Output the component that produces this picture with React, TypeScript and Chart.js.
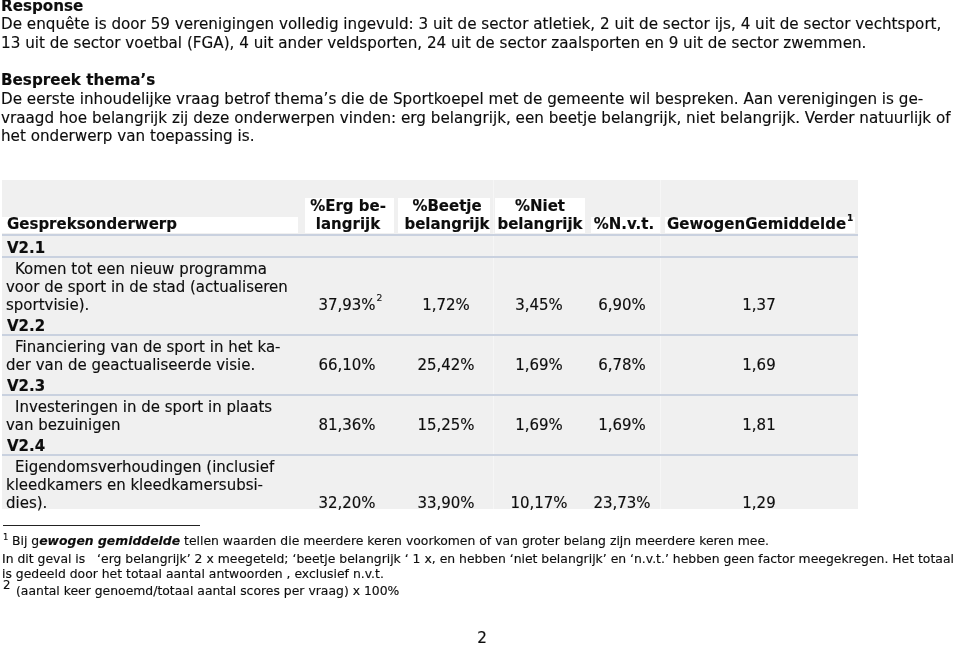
import React, { useEffect, useRef } from "react";
import { Chart, registerables } from "chart.js";
Chart.register(...registerables);

const W = 960;
const H = 647;
const FONT = '"DejaVu Sans", Verdana, sans-serif';

// ---------- text / data ----------
const introTitle = "Response";
const introLines = [
  "De enquête is door 59 verenigingen volledig ingevuld: 3 uit de sector atletiek, 2 uit de sector ijs, 4 uit de sector vechtsport,",
  "13 uit de sector voetbal (FGA), 4 uit ander veldsporten, 24 uit de sector zaalsporten en 9 uit de sector zwemmen.",
];
const themeTitle = "Bespreek thema’s";
const themeLines = [
  "De eerste inhoudelijke vraag betrof thema’s die de Sportkoepel met de gemeente wil bespreken. Aan verenigingen is ge-",
  "vraagd hoe belangrijk zij deze onderwerpen vinden: erg belangrijk, een beetje belangrijk, niet belangrijk. Verder natuurlijk of",
  "het onderwerp van toepassing is.",
];

const headerLabel = "Gespreksonderwerp";
const columnHeaders = [
  ["%Erg be-", "langrijk"],
  ["%Beetje", "belangrijk"],
  ["%Niet", "belangrijk"],
  ["%N.v.t."],
  ["GewogenGemiddelde"],
];
const topicCodes = ["V2.1", "V2.2", "V2.3", "V2.4"];
const topicTexts = [
  ["Komen tot een nieuw programma", "voor de sport in de stad (actualiseren", "sportvisie)."],
  ["Financiering van de sport in het ka-", "der van de geactualiseerde visie."],
  ["Investeringen in de sport in plaats", "van bezuinigen"],
  ["Eigendomsverhoudingen (inclusief", "kleedkamers en kleedkamersubsi-", "dies)."],
];
const pctErg = [37.93, 66.1, 81.36, 32.2];
const pctBeetje = [1.72, 25.42, 15.25, 33.9];
const pctNiet = [3.45, 1.69, 1.69, 10.17];
const pctNvt = [6.9, 6.78, 1.69, 23.73];
const gewogenGemiddelde = [1.37, 1.69, 1.81, 1.29];

const footnote1 = [
  { t: "Bij g", bold: false, italic: false },
  { t: "ewogen gemiddelde", bold: true, italic: true },
  { t: " tellen waarden die meerdere keren voorkomen of van groter belang zijn meerdere keren mee.", bold: false, italic: false },
];
const footnoteLines = [
  "In dit geval is   ‘erg belangrijk’ 2 x meegeteld; ‘beetje belangrijk ‘ 1 x, en hebben ‘niet belangrijk’ en ‘n.v.t.’ hebben geen factor meegekregen. Het totaal",
  "is gedeeld door het totaal aantal antwoorden , exclusief n.v.t.",
];
const footnote2 = "(aantal keer genoemd/totaal aantal scores per vraag) x 100%";
const pageNumber = "2";

// ---------- layout ----------
const TABLE = { x0: 2, x1: 858, y0: 180, y1: 509 };
const COL_CENTERS = [347, 446, 539, 622, 759];
const HEADER_BOXES = [
  { x0: 305, x1: 394, y0: 198 },
  { x0: 398, x1: 490, y0: 198 },
  { x0: 495, x1: 585, y0: 198 },
  { x0: 591, x1: 660, y0: 217 },
  { x0: 665, x1: 855, y0: 217 },
];
const VSTRETCH = 1.03;

const fmtPct = (v: number) => v.toFixed(2).replace(".", ",") + "%";
const fmtNum = (v: number) => v.toFixed(2).replace(".", ",");

function font(size: number, bold = false, italic = false) {
  return `${italic ? "italic " : ""}${bold ? "bold " : ""}${size}px ${FONT}`;
}

function fit(ctx: CanvasRenderingContext2D, text: string, target: number, bold = false) {
  ctx.font = font(100, bold);
  const w = ctx.measureText(text).width;
  return (100 * target) / w;
}

const pagePlugin = {
  id: "pagePlugin",
  afterDraw(chart: any) {
    const ctx: CanvasRenderingContext2D = chart.ctx;
    const xs = chart.scales.x;
    const ys = chart.scales.y;
    const X = (v: number) => xs.getPixelForValue(v);
    const Y = (v: number) => ys.getPixelForValue(v);
    const ink = "#0d0d0d";

    const bodySize = fit(ctx, introLines[0], 941);
    const tableSize = fit(ctx, topicTexts[0][1], 282);
    const noteSize = fit(ctx, footnoteLines[1], 382);

    const txt = (
      s: string,
      x: number,
      y: number,
      size: number,
      o: { bold?: boolean; italic?: boolean; align?: CanvasTextAlign; color?: string } = {}
    ) => {
      const big = size * VSTRETCH;
      ctx.font = font(big, o.bold, o.italic);
      const k = 1 / VSTRETCH;
      const w = ctx.measureText(s).width * k;
      let px = X(x);
      const align = o.align || "left";
      if (align === "center") px -= w / 2;
      else if (align === "right") px -= w;
      ctx.save();
      ctx.translate(px, Y(y));
      ctx.scale(k, 1);
      ctx.fillStyle = o.color || ink;
      ctx.strokeStyle = o.color || ink;
      ctx.lineWidth = 0.15;
      ctx.textAlign = "left";
      ctx.textBaseline = "middle";
      ctx.fillText(s, 0, 0);
      ctx.strokeText(s, 0, 0);
      ctx.restore();
      return w;
    };

    ctx.save();
    ctx.fillStyle = "#ffffff";
    ctx.fillRect(0, 0, W, H);

    // ---- intro ----
    txt(introTitle, 1, 7, bodySize, { bold: true });
    introLines.forEach((l, i) => txt(l, 1, 25 + i * 18.7, bodySize));
    txt(themeTitle, 1, 81, bodySize, { bold: true });
    themeLines.forEach((l, i) => txt(l, 1, 100 + i * 18.7, bodySize));

    // ---- table background ----
    ctx.fillStyle = "#f0f0f0";
    ctx.fillRect(X(TABLE.x0), Y(TABLE.y0), X(TABLE.x1) - X(TABLE.x0), Y(TABLE.y1) - Y(TABLE.y0));
    ctx.fillStyle = "#f6f6f6";
    [493, 660].forEach((vx) => ctx.fillRect(X(vx), Y(TABLE.y0), 1, Y(TABLE.y1) - Y(TABLE.y0)));

    // header boxes
    ctx.fillStyle = "#ffffff";
    ctx.fillRect(X(TABLE.x0), Y(217), X(298) - X(TABLE.x0), Y(233) - Y(217));
    HEADER_BOXES.forEach((b) => ctx.fillRect(X(b.x0), Y(b.y0), X(b.x1) - X(b.x0), Y(233) - Y(b.y0)));

    const rule = (y: number) => {
      ctx.fillStyle = "#c9d1df";
      ctx.fillRect(X(TABLE.x0), Y(y) - 1, X(TABLE.x1) - X(TABLE.x0), 2);
    };

    // header text
    txt(headerLabel, 7, 225, tableSize, { bold: true });
    columnHeaders.forEach((lines, c) => {
      const cx = COL_CENTERS[c];
      if (lines.length === 2) {
        txt(lines[0], cx + 1, 207, tableSize, { bold: true, align: "center" });
        txt(lines[1], cx + 1, 225, tableSize, { bold: true, align: "center" });
      } else {
        ctx.font = font(tableSize, true);
        const w = ctx.measureText(lines[0]).width;
        const sx = c === 4 ? 667 : cx + 2 - w / 2;
        const ww = txt(lines[0], sx, 225, tableSize, { bold: true });
        if (c === 4) txt("1", sx + ww + 1, 219, tableSize * 0.6, { bold: true });
      }
    });
    rule(235);

    // rows
    const LH = 18;
    let y = 249;
    topicCodes.forEach((code, r) => {
      txt(code, 7, y, tableSize, { bold: true });
      rule(y + 8);
      let ly = y + 20.5;
      topicTexts[r].forEach((l, i) => {
        txt(l, i === 0 ? 15 : 6, ly, tableSize);
        if (i < topicTexts[r].length - 1) ly += LH;
      });
      const vals = [fmtPct(pctErg[r]), fmtPct(pctBeetje[r]), fmtPct(pctNiet[r]), fmtPct(pctNvt[r]), fmtNum(gewogenGemiddelde[r])];
      vals.forEach((v, c) => {
        const w = txt(v, COL_CENTERS[c], ly, tableSize, { align: "center" });
        if (r === 0 && c === 0) txt("2", COL_CENTERS[c] + w / 2 + 1, ly - 7, tableSize * 0.62);
      });
      y = ly + 21.5;
    });

    // ---- footnotes ----
    ctx.fillStyle = "#222";
    ctx.fillRect(X(3), Y(525), X(200) - X(3), 1);
    txt("1", 3, 538, noteSize * 0.68);
    let fx = 12;
    footnote1.forEach((s) => {
      fx += txt(s.t, fx, 542, noteSize, { bold: s.bold, italic: s.italic });
    });
    footnoteLines.forEach((l, i) => txt(l, 2, 560 + i * 14.5, noteSize));
    txt("2", 3, 586, noteSize * 0.95);
    txt(footnote2, 16, 592, noteSize);

    txt(pageNumber, 482, 639, bodySize, { align: "center" });
    ctx.restore();
  },
};

export default function App() {
  const ref = useRef<HTMLCanvasElement | null>(null);
  useEffect(() => {
    if (!ref.current) return;
    const chart = new Chart(ref.current, {
      type: "scatter",
      data: { datasets: [] },
      options: {
        animation: false,
        responsive: false,
        maintainAspectRatio: false,
        devicePixelRatio: 1,
        layout: { padding: 0 },
        plugins: { legend: { display: false }, tooltip: { enabled: false }, title: { display: false } },
        scales: {
          x: { type: "linear", min: 0, max: W, display: false },
          y: { type: "linear", min: 0, max: H, reverse: true, display: false },
        },
      },
      plugins: [pagePlugin],
    });
    return () => chart.destroy();
  }, []);
  return (
    <div style={{ position: "fixed", left: 0, top: 0, width: W, height: H, background: "#fff" }}>
      <canvas ref={ref} width={W} height={H} style={{ display: "block", width: W, height: H }} />
    </div>
  );
}
